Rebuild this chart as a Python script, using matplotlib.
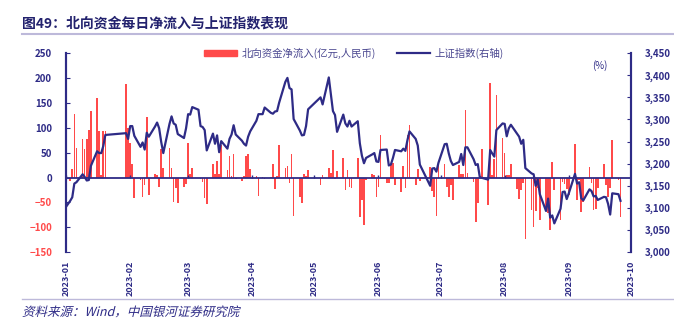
import numpy as np
import pandas as pd
import matplotlib
matplotlib.use('Agg')
import matplotlib.pyplot as plt
import matplotlib.dates as mdates
from matplotlib.lines import Line2D
from matplotlib.patches import Patch, PathPatch
from matplotlib.textpath import TextPath
from matplotlib.font_manager import FontProperties
from matplotlib.transforms import Affine2D, IdentityTransform

plt.rcParams['font.family'] = ['Noto Sans CJK SC', 'DejaVu Sans']

navy = '#2E2B86'
red = '#FF4A4A'

# trading days (Shanghai/Shenzhen connect), 2022-12-30 .. 2023-09-26
holidays = ['2023-01-23', '2023-01-24', '2023-01-25', '2023-01-26', '2023-01-27',
            '2023-04-05', '2023-05-01', '2023-05-02', '2023-05-03',
            '2023-06-22', '2023-06-23']
dates = pd.DatetimeIndex(['2022-12-30']).append(
    pd.bdate_range('2023-01-03', '2023-09-26').difference(pd.to_datetime(holidays)))

# northbound daily net inflow (亿元)
flow = [0,
        -7, 18, 127, 60, 77, 58, 77, 95, 133, 159, 93, 5, 94, 93, 187, 100,
        70, 27, -42, -5, -39, -15, 121, -35, 7, 5, -19, 58, 20, 60, 20, -49, -22, -51, -20, -13,
        70, 7, 20, -1, -3, -10, -42, -53, 27, 7, 33, 7, 66, 16, 43, 4, 48, -3, -7, 3, 43, 48, 17,
        3, -38, 2, -3, 2, 27, -24, 3, 65, 20, 23, -11, 47, -77, -39, -51, 7, 3, 16,
        -15, 5, 20, 10, 56, -3, 13, 40, -25, 16, -19, -22, 40, -79, -45, -96, -5, 7, 5, -39,
        -19, 85, -12, -11, 28, 30, -15, -29, 23, -22, 85, 105, -15, 18, -7, 21, -27, -39, -77, 28,
        27, -20, -40, -15, -45, 25, 7, 7, 135, 9, -10, -89, -51, 3, 58, -55, 190, 5, 38, 165, 80,
        50, 5, 5, 27, -24, -44, -25, -12, -124, -65, -99, -68, -22, -86, -60, -72, -106, 31, -25, -86, -9, -13, -24,
        -35, 68, -45, -5, -69, -49, 21, -12, -66, -64, -22, 28, -15, -39, -22, 75, -5, -80]

# SSE composite close
sse = [3089,
       3116, 3124, 3155, 3158, 3176, 3170, 3162, 3163, 3195, 3228, 3224, 3224, 3240, 3265, 3269, 3256,
       3285, 3285, 3263, 3238, 3248, 3232, 3270, 3261, 3284, 3293, 3280, 3249, 3224, 3290, 3307, 3291, 3288, 3267, 3258, 3280,
       3312, 3311, 3328, 3322, 3285, 3283, 3276, 3230, 3268, 3245, 3264, 3226, 3251, 3234, 3256, 3266, 3287, 3266, 3252, 3245, 3241, 3261, 3273,
       3297, 3312, 3312, 3327, 3315, 3313, 3318, 3319, 3338, 3385, 3394, 3371, 3368, 3301, 3275, 3264, 3265, 3285, 3323,
       3350, 3334, 3395, 3358, 3319, 3310, 3272, 3311, 3291, 3284, 3297, 3284, 3296, 3246, 3218, 3201, 3213, 3221, 3224, 3205,
       3204, 3231, 3232, 3196, 3198, 3213, 3231, 3228, 3234, 3229, 3253, 3273, 3256, 3241, 3198, 3150, 3189, 3190, 3182, 3202,
       3244, 3245, 3223, 3206, 3197, 3204, 3222, 3197, 3237, 3237, 3210, 3197, 3199, 3169, 3168, 3164, 3231, 3223, 3216, 3276, 3291,
       3290, 3262, 3280, 3288, 3268, 3261, 3245, 3254, 3190, 3178, 3176, 3150, 3164, 3131, 3093, 3121, 3078, 3083, 3065, 3098, 3136, 3137, 3120,
       3133, 3177, 3155, 3158, 3122, 3117, 3142, 3138, 3126, 3127, 3118, 3125, 3124, 3109, 3085, 3133, 3131, 3116]

months = pd.date_range('2023-01-01', '2023-10-01', freq='MS')
left_ticks = [-150, -100, -50, 0, 50, 100, 150, 200, 250]
right_ticks = [3000, 3050, 3100, 3150, 3200, 3250, 3300, 3350, 3400, 3450]

fig = plt.figure(figsize=(6.74, 3.22), dpi=100)
ax = fig.add_axes([0.098, 0.217, 0.838, 0.618])
ax2 = ax.twinx()

ax.bar(dates, flow, width=0.8, color=red, edgecolor='none', linewidth=0)
ax.axhline(0, color=navy, lw=1.3, zorder=3)
ax.vlines(months, 0, 5, color=navy, lw=1, zorder=3)

ax2.plot(dates, sse, color=navy, lw=1.6)

ax.set_xlim(months[0], months[-1])
ax.set_ylim(-150, 250)
ax2.set_ylim(3000, 3450)
ax.set_yticks(left_ticks)
ax2.set_yticks(right_ticks)
ax2.set_yticklabels(['{:,}'.format(v) for v in right_ticks])

ax.set_xticks(months)
ax.xaxis.set_major_formatter(mdates.DateFormatter('%Y-%m'))
plt.setp(ax.get_xticklabels(), rotation=90, fontsize=6.5, fontweight='bold', color=navy)
ax.tick_params(axis='x', length=0, pad=6)

for a in (ax, ax2):
    a.spines['top'].set_visible(False)
    a.spines['bottom'].set_visible(False)
    a.spines['left'].set_color(navy)
    a.spines['right'].set_color(navy)
    a.spines['left'].set_linewidth(1.5)
    a.spines['right'].set_linewidth(1.5)
ax.tick_params(axis='y', direction='in', length=3, color=navy, labelsize=7, pad=10)
ax2.tick_params(axis='y', direction='in', length=3, color=navy, labelsize=7, pad=10)
for lab, v in zip(ax.get_yticklabels(), left_ticks):
    lab.set_fontweight('bold')
    lab.set_color(red if v < 0 else navy)
for lab in ax2.get_yticklabels():
    lab.set_fontweight('bold')
    lab.set_color(navy)

ax2.text(0.945, 0.92, '(%)', transform=ax.transAxes, fontsize=7, color=navy, ha='center')

handles = [Patch(color=red), Line2D([], [], color=navy, lw=1.6)]
fig.legend(handles, ['北向资金净流入(亿元,人民币)', '上证指数(右轴)'], loc='center',
           bbox_to_anchor=(0.525, 0.835), ncol=2, frameon=False, fontsize=7.5,
           labelcolor='#4A4790', handlelength=3.2, handleheight=0.5,
           columnspacing=2.0, handletextpad=0.4)

fig.text(0.033, 0.928, '图49：北向资金每日净流入与上证指数表现', fontsize=10,
         fontweight='bold', color='#23226E', va='center')
fig.add_artist(Line2D([0.033, 1.0], [0.895, 0.895], color='#BDB9DA', lw=1.5))
fig.add_artist(Line2D([0.033, 1.0], [0.072, 0.072], color='#BDB9DA', lw=1.0))

# source note, slanted like an italic (CJK fonts have no italic face)
src = TextPath((0, 0), '资料来源：Wind，中国银河证券研究院', size=12.5,
               prop=FontProperties(family=['Noto Sans CJK SC', 'DejaVu Sans']))
slant = Affine2D().skew_deg(14, 0).translate(22, 322 - 316)
fig.add_artist(PathPatch(src, transform=slant + IdentityTransform(),
                         facecolor=navy, edgecolor='none'))

fig.savefig('out.png', dpi=100)
